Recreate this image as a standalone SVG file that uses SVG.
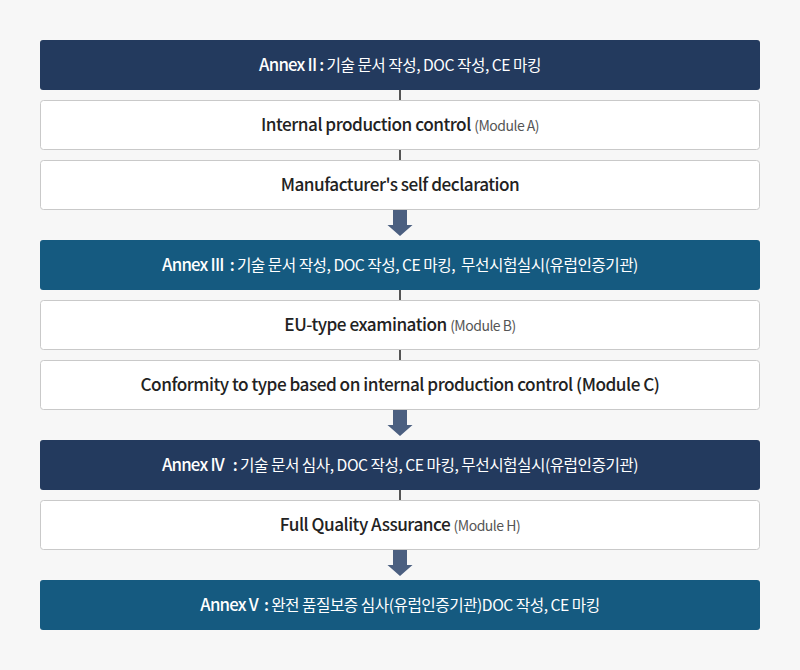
<svg xmlns="http://www.w3.org/2000/svg" width="800" height="670" viewBox="0 0 800 670">
<style>
.bg{fill:#f7f7f7}
.hd1{fill:#233a5e}
.hd2{fill:#155a80}
.bx{fill:#ffffff;stroke:#c9c9c9;stroke-width:1}
text{font-family:"Noto Sans CJK KR","Noto Sans",sans-serif;text-anchor:middle;letter-spacing:-0.5px;white-space:pre}
.ht{fill:#ffffff;font-size:15.7px}
.hb{font-weight:500;font-size:16.8px;letter-spacing:-0.8px}
.mt{fill:#222222;font-size:17.2px;font-weight:500}
.sm{fill:#555555;font-size:14px;font-weight:normal}
.ln{stroke:#555555;stroke-width:2}
.ar{fill:#4b5f80}
</style>
<rect class="bg" x="0" y="0" width="800" height="670"/>
<g id="connectors">
<line class="ln" x1="400" y1="90" x2="400" y2="100"/>
<line class="ln" x1="400" y1="150" x2="400" y2="160"/>
<line class="ln" x1="400" y1="290" x2="400" y2="300"/>
<line class="ln" x1="400" y1="350" x2="400" y2="360"/>
<line class="ln" x1="400" y1="490" x2="400" y2="500"/>
<path class="ar" d="M393,210 H407 V225 H412.5 L400,236 L387.5,225 H393 Z"/>
<path class="ar" d="M393,410 H407 V425 H412.5 L400,436 L387.5,425 H393 Z"/>
<path class="ar" d="M393,550 H407 V565 H412.5 L400,576 L387.5,565 H393 Z"/>
</g>
<g id="annex2">
<rect class="hd1" x="40" y="40" width="720" height="50" rx="3"/>
<text class="ht" x="400" y="71"><tspan class="hb">Annex II :</tspan> 기술 문서 작성, DOC 작성, CE 마킹</text>
</g>
<g id="moduleA">
<rect class="bx" x="40.5" y="100.5" width="719" height="49" rx="3"/>
<text class="mt" x="400" y="131">Internal production control <tspan class="sm">(Module A)</tspan></text>
</g>
<g id="selfdecl">
<rect class="bx" x="40.5" y="160.5" width="719" height="49" rx="3"/>
<text class="mt" x="400" y="191">Manufacturer's self declaration</text>
</g>
<g id="annex3">
<rect class="hd2" x="40" y="240" width="720" height="50" rx="3"/>
<text class="ht" x="400" y="271"><tspan class="hb">Annex III  :</tspan> 기술 문서 작성, DOC 작성, CE 마킹,  무선시험실시(유럽인증기관)</text>
</g>
<g id="moduleB">
<rect class="bx" x="40.5" y="300.5" width="719" height="49" rx="3"/>
<text class="mt" x="400" y="331">EU-type examination <tspan class="sm">(Module B)</tspan></text>
</g>
<g id="moduleC">
<rect class="bx" x="40.5" y="360.5" width="719" height="49" rx="3"/>
<text class="mt" x="400" y="391">Conformity to type based on internal production control (Module C)</text>
</g>
<g id="annex4">
<rect class="hd1" x="40" y="440" width="720" height="50" rx="3"/>
<text class="ht" x="400" y="471"><tspan class="hb">Annex IV   :</tspan> 기술 문서 심사, DOC 작성, CE 마킹, 무선시험실시(유럽인증기관)</text>
</g>
<g id="moduleH">
<rect class="bx" x="40.5" y="500.5" width="719" height="49" rx="3"/>
<text class="mt" x="400" y="531">Full Quality Assurance <tspan class="sm">(Module H)</tspan></text>
</g>
<g id="annex5">
<rect class="hd2" x="40" y="580" width="720" height="50" rx="3"/>
<text class="ht" x="400" y="611"><tspan class="hb">Annex V  :</tspan> 완전 품질보증 심사(유럽인증기관)DOC 작성, CE 마킹</text>
</g>
</svg>
